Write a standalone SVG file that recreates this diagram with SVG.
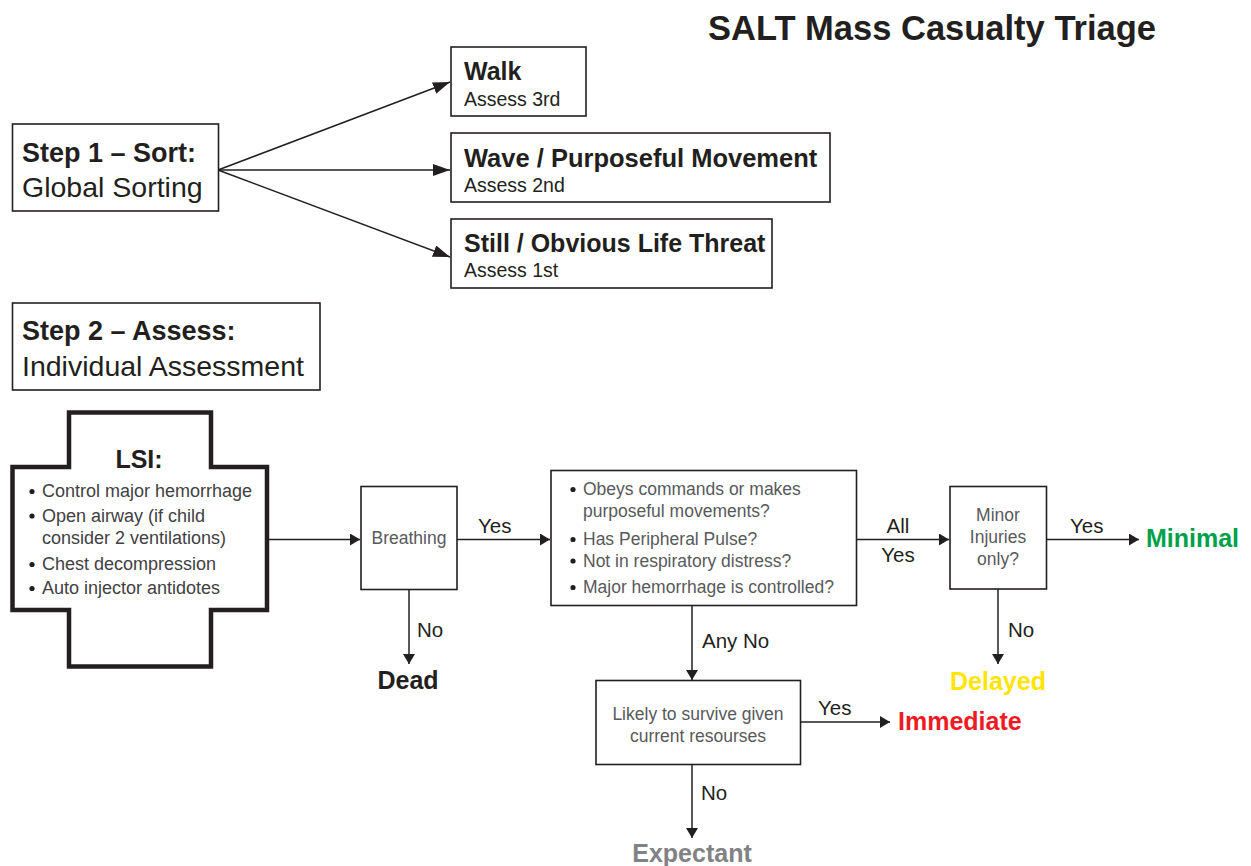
<svg xmlns="http://www.w3.org/2000/svg" width="1251" height="866" viewBox="0 0 1251 866">
<defs>
<style>
text{font-family:"Liberation Sans",Arial,sans-serif;fill:#231f20}
.b{font-weight:bold}
.box{fill:#fff;stroke:#231f20;stroke-width:1.6}
.ln{fill:none;stroke:#231f20;stroke-width:1.5}
.inner{fill:#58595b;font-size:17.5px}
.lsi{fill:#414042;font-size:18px}
.lbl{font-size:20.5px}
.out{font-weight:bold;font-size:25px}
.dot{fill:#231f20}
</style>
<marker id="ah" viewBox="0 0 10 12" refX="10" refY="6" markerWidth="10" markerHeight="12" markerUnits="userSpaceOnUse" orient="auto">
<path d="M0,0 L10,6 L0,12 Z" fill="#231f20"/>
</marker>
<marker id="ahL" viewBox="0 0 17 12" refX="17" refY="6" markerWidth="17" markerHeight="12" markerUnits="userSpaceOnUse" orient="auto">
<path d="M0,0 L17,6 L0,12 Z" fill="#231f20"/>
</marker>
</defs>
<rect width="1251" height="866" fill="#fff"/>
<text x="708" y="40" class="b" font-size="34.5">SALT Mass Casualty Triage</text>

<g id="connectors">
<line class="ln" x1="218" y1="170" x2="450" y2="82" marker-end="url(#ahL)"/>
<line class="ln" x1="218" y1="170" x2="450" y2="170" marker-end="url(#ahL)"/>
<line class="ln" x1="218" y1="170" x2="450" y2="257" marker-end="url(#ahL)"/>
<line class="ln" x1="269" y1="539.5" x2="360" y2="539.5" marker-end="url(#ah)"/>
<line class="ln" x1="457" y1="539.5" x2="550" y2="539.5" marker-end="url(#ah)"/>
<line class="ln" x1="409" y1="589" x2="409" y2="664" marker-end="url(#ah)"/>
<line class="ln" x1="857" y1="539.5" x2="949" y2="539.5" marker-end="url(#ah)"/>
<line class="ln" x1="1047" y1="539.5" x2="1139" y2="539.5" marker-end="url(#ah)"/>
<line class="ln" x1="998" y1="589" x2="998" y2="664" marker-end="url(#ah)"/>
<line class="ln" x1="692" y1="606" x2="692" y2="680" marker-end="url(#ah)"/>
<line class="ln" x1="801" y1="722" x2="890" y2="722" marker-end="url(#ah)"/>
<line class="ln" x1="692" y1="765" x2="692" y2="838" marker-end="url(#ah)"/>
<text x="478" y="533" class="lbl">Yes</text>
<text x="417" y="637" class="lbl">No</text>
<text x="898" y="533" class="lbl" text-anchor="middle">All</text>
<text x="898" y="562" class="lbl" text-anchor="middle">Yes</text>
<text x="1070" y="533" class="lbl">Yes</text>
<text x="1008" y="637" class="lbl">No</text>
<text x="702" y="648" class="lbl">Any No</text>
<text x="818" y="715" class="lbl">Yes</text>
<text x="701" y="800" class="lbl">No</text>
</g>

<g id="step1">
<rect class="box" x="12.5" y="124" width="206" height="87"/>
<text x="22" y="162" class="b" font-size="27">Step 1 – Sort:</text>
<text x="22" y="197" font-size="28.5">Global Sorting</text>
</g>
<g id="walk">
<rect class="box" x="451" y="47" width="135" height="69"/>
<text x="464" y="80" class="b" font-size="25">Walk</text>
<text x="464" y="106" font-size="19.5">Assess 3rd</text>
</g>
<g id="wave">
<rect class="box" x="451" y="133" width="379" height="69"/>
<text x="464" y="167" class="b" font-size="25.5">Wave / Purposeful Movement</text>
<text x="464" y="192" font-size="19.5">Assess 2nd</text>
</g>
<g id="still">
<rect class="box" x="451" y="219" width="321" height="69"/>
<text x="464" y="252" class="b" font-size="25">Still / Obvious Life Threat</text>
<text x="464" y="277" font-size="19.5">Assess 1st</text>
</g>
<g id="step2">
<rect class="box" x="12.5" y="303" width="307.5" height="87"/>
<text x="22" y="340" class="b" font-size="27">Step 2 – Assess:</text>
<text x="22" y="376" font-size="28.5">Individual Assessment</text>
</g>

<g id="lsi">
<path d="M69,412.5 H211 V467 H267 V610 H211 V666.5 H69 V610 H12.5 V467 H69 Z" fill="#fff" stroke="#231f20" stroke-width="4.5"/>
<text x="139" y="468" class="b" font-size="25" text-anchor="middle">LSI:</text>
<circle class="dot" cx="32" cy="491.5" r="2.6"/>
<circle class="dot" cx="32" cy="516" r="2.6"/>
<circle class="dot" cx="32" cy="564.5" r="2.6"/>
<circle class="dot" cx="32" cy="588.5" r="2.6"/>
<text x="42" y="497" class="lsi">Control major hemorrhage</text>
<text x="42" y="521.5" class="lsi">Open airway (if child</text>
<text x="42" y="544" class="lsi">consider 2 ventilations)</text>
<text x="42" y="570" class="lsi">Chest decompression</text>
<text x="42" y="594" class="lsi">Auto injector antidotes</text>
</g>

<g id="breathing">
<rect class="box" x="361" y="486.5" width="96" height="103"/>
<text x="409" y="544" class="inner" text-anchor="middle">Breathing</text>
</g>
<g id="dead"><text x="408" y="689" class="out" text-anchor="middle">Dead</text></g>

<g id="criteria">
<rect class="box" x="551" y="470.5" width="305.5" height="135"/>
<circle class="dot" cx="573" cy="489.5" r="2.6"/>
<circle class="dot" cx="573" cy="539.5" r="2.6"/>
<circle class="dot" cx="573" cy="561" r="2.6"/>
<circle class="dot" cx="573" cy="587.5" r="2.6"/>
<text x="583" y="495" class="inner">Obeys commands or makes</text>
<text x="583" y="517" class="inner">purposeful movements?</text>
<text x="583" y="545" class="inner">Has Peripheral Pulse?</text>
<text x="583" y="566.5" class="inner">Not in respiratory distress?</text>
<text x="583" y="593" class="inner">Major hemorrhage is controlled?</text>
</g>

<g id="minor">
<rect class="box" x="950" y="486.5" width="96.5" height="102.5"/>
<text x="998" y="521" class="inner" text-anchor="middle">Minor</text>
<text x="998" y="543" class="inner" text-anchor="middle">Injuries</text>
<text x="998" y="565" class="inner" text-anchor="middle">only?</text>
</g>
<g id="minimal"><text x="1146" y="547" class="out" style="fill:#00a14b">Minimal</text></g>
<g id="delayed"><text x="998" y="690" class="out" text-anchor="middle" style="fill:#ffe500">Delayed</text></g>

<g id="likely">
<rect class="box" x="596" y="680.5" width="204.5" height="84"/>
<text x="698" y="720" class="inner" text-anchor="middle">Likely to survive given</text>
<text x="698" y="742" class="inner" text-anchor="middle">current resourses</text>
</g>
<g id="immediate"><text x="898" y="730" class="out" style="fill:#ed1c24">Immediate</text></g>
<g id="expectant"><text x="692" y="862" class="out" text-anchor="middle" style="fill:#808285">Expectant</text></g>
</svg>
